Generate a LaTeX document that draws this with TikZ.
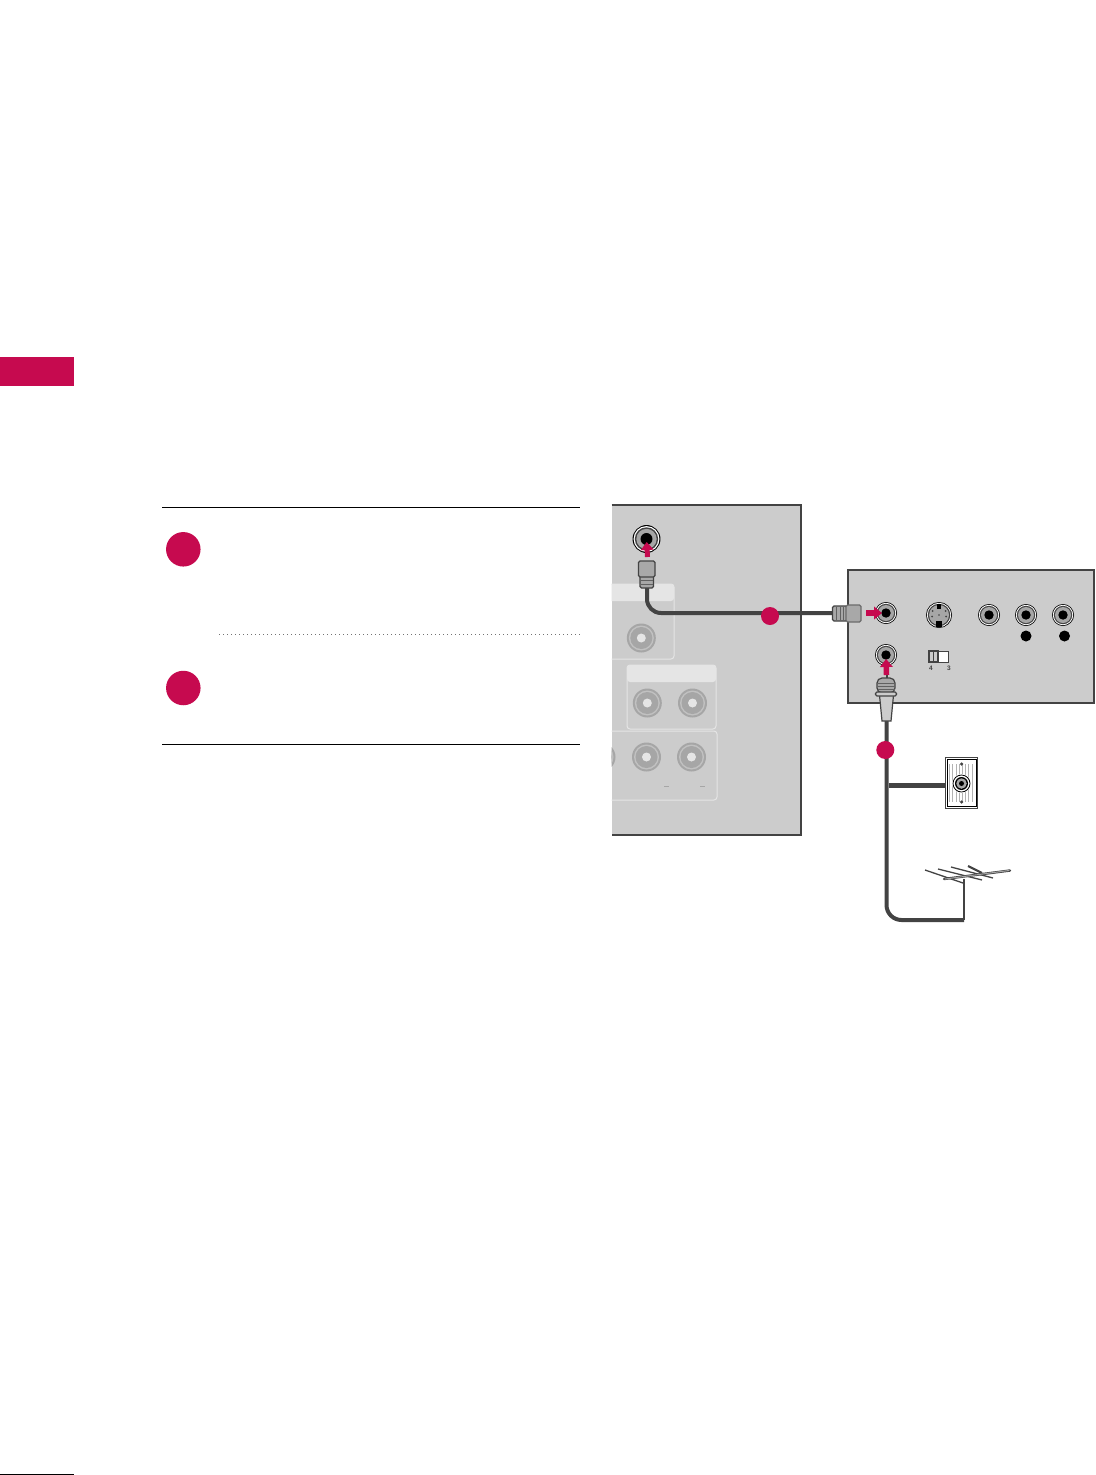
\documentclass[tikz,border=0pt]{standalone}
\usepackage{fontspec}
\setmainfont{Liberation Sans}
\usetikzlibrary{arrows.meta}
\definecolor{crim}{HTML}{C60A4F}
\definecolor{panelgrey}{HTML}{CCCCCC}
\definecolor{headgrey}{HTML}{E5E5E5}
\definecolor{edgegrey}{HTML}{434343}
\definecolor{jackgrey}{HTML}{A6A6A6}
\definecolor{plugfill}{HTML}{A8A8A8}
\tikzset{
  x=1pt,y=-1pt,
  disc/.style={circle,fill=#1,draw=none,inner sep=0pt,outer sep=0pt},
  stepdot/.style={disc=crim,minimum size=34.5pt},
  cabledot/.style={disc=crim,minimum size=18pt},
  rule/.style={draw=black,line width=1pt},
  cable/.style={draw=edgegrey,line width=4pt},
  thickcable/.style={draw=edgegrey,line width=5pt},
  pink/.style={draw=crim,line width=5.5pt,-{Triangle[width=12.5pt,length=8pt]}},
  plugpart/.style={draw=edgegrey,fill=plugfill,line width=1.2pt,rounded corners=1.5pt},
  band/.style={draw=edgegrey!70!plugfill,line width=.7pt},
  subpanel/.style={draw=headgrey,line width=1pt,rounded corners=3pt},
  small/.style={font=\bfseries\fontsize{6.5}{6.5}\selectfont,text=edgegrey,inner sep=0pt},
  element/.style={draw=edgegrey,line width=1.3pt},
}
% live jack: name, x, y, scale
\newcommand{\livejack}[4]{%
  \node[disc=black,minimum size=#4*2.0pt*11] (#1) at (#2,#3) {};
  \node[disc=white,minimum size=#4*2.0pt*10.2] at (#1) {};
  \node[disc=edgegrey,minimum size=#4*2.0pt*9.2] at (#1) {};
  \node[disc=jackgrey,minimum size=#4*2.0pt*8] at (#1) {};
  \node[disc=black,minimum size=#4*2.0pt*4.7] at (#1) {};
}
% idle jack on the back panel
\newcommand{\idlejack}[3]{%
  \node[disc=jackgrey,minimum size=29pt] (#1) at (#2,#3) {};
  \node[disc=panelgrey!70!jackgrey,minimum size=25pt] at (#1) {};
  \node[disc=jackgrey,minimum size=22pt] at (#1) {};
  \node[disc=headgrey,minimum size=9pt] at (#1) {};
}
\begin{document}
\begin{tikzpicture}
\useasboundingbox (0,0) rectangle (1095,1475);
\fill[white] (0,0) rectangle (1095,1475);

% page furniture
\fill[crim] (0,357) rectangle (74,386);
\draw[draw=black,line width=1pt] (0,1474) -- (74,1474);

% instruction block
\coordinate (ruleAa) at (162,507); \coordinate (ruleAb) at (580,507);
\coordinate (ruleBa) at (162,744); \coordinate (ruleBb) at (580,744);
\coordinate (dotsa) at (219,634); \coordinate (dotsb) at (580,634);
\draw[rule] (ruleAa) -- (ruleAb);
\draw[rule] (ruleBa) -- (ruleBb);
\draw[draw=black!55,line width=.7pt,dash pattern=on .8pt off 3.2pt] (dotsa) -- (dotsb);
\node[stepdot] (stepone) at (183.3,549.3) {};
\node[stepdot] (steptwo) at (183.3,688) {};

% left panel
\fill[panelgrey] (611.5,505) rectangle (801,835);
\draw[draw=edgegrey,line width=1.6pt] (611.5,505) -- (801,505) -- (801,835) -- (611.5,835);

\begin{scope}
\clip (611.5,500) rectangle (801,840);
\draw[subpanel] (600,584) rectangle (674,659);
\fill[headgrey,rounded corners=3pt] (600,584) rectangle (674,601);
\draw[subpanel] (600,731) rectangle (717,800);
\idlejack{jackL}{601}{757}
\end{scope}
\fill[headgrey,rounded corners=3pt] (627,665) rectangle (716,682);
\draw[subpanel] (627,665) rectangle (716,729);
\idlejack{jackA}{641.3}{638}
\idlejack{jackB}{647.3}{703}
\idlejack{jackC}{692.5}{703}
\idlejack{jackD}{646.5}{757}
\idlejack{jackE}{691.5}{757}
\coordinate (dashAa) at (664,786); \coordinate (dashAb) at (669,786);
\coordinate (dashBa) at (700,786); \coordinate (dashBb) at (705,786);
\draw[draw=jackgrey,line width=.8pt] (dashAa) -- (dashAb);
\draw[draw=jackgrey,line width=.8pt] (dashBa) -- (dashBb);

% right panel
\draw[draw=edgegrey,fill=panelgrey,line width=1.6pt] (848,570) rectangle (1094,703);

% live jacks
\livejack{antenna}{646.5}{539}{1.27}
\livejack{inA}{886}{613}{1}
\livejack{inB}{886}{655}{1}
\livejack{outA}{989}{615}{1}
\livejack{outB}{1026}{615}{1}
\livejack{outC}{1063}{615}{1}
\node[disc=black,minimum size=11pt] (holeA) at (1026,636) {};
\node[disc=black,minimum size=11pt] (holeB) at (1064.5,636) {};

% S-video jack
\node[disc=black,minimum size=26pt] (svideo) at (939,615) {};
\node[disc=white,minimum size=24.4pt] at (svideo) {};
\node[disc=edgegrey,minimum size=22.5pt] at (svideo) {};
\node[disc=jackgrey,minimum size=20pt] at (svideo) {};
\fill[black] (937,604) rectangle (941,609);
\fill[black] (936,621) rectangle (942,627);
\fill[edgegrey] (932.5,611) circle (1pt) (945.5,611) circle (1pt) (932,616.5) circle (1pt) (946,616.5) circle (1pt) (939,615) circle (.8pt);

% switch
\draw[draw=edgegrey,fill=white,line width=.6pt] (938,651) rectangle (948,662);
\draw[draw=edgegrey,fill=panelgrey,line width=1.8pt] (929,651) rectangle (938,662);
\draw[draw=edgegrey,line width=.7pt] (933.5,652) -- (933.5,661);
\node[small] (labfour) at (931,668.5) {4};
\node[small] (labthree) at (949,668.5) {3};

% cables
\coordinate (plugTopEnd) at (647,588);
\coordinate (plugSideEnd) at (832,613);
\draw[cable,rounded corners=14pt] (plugTopEnd) -- (647,613) -- (plugSideEnd);
\coordinate (plugLowEnd) at (886.5,720);
\coordinate (mastFoot) at (964,920);
\draw[cable,rounded corners=15pt] (plugLowEnd) -- (886.5,920) -- (mastFoot);
\coordinate (branch) at (889,785);
\coordinate (plateW) at (945,785);
\draw[thickcable] (branch) -- (plateW);

% plug on the top jack
\draw[plugpart] (640,575) rectangle (653.5,588);
\draw[plugpart] (638.5,561) rectangle (655,577);
\draw[band] (640.5,580) -- (653,580) (640.5,584) -- (653,584);
% plug on the side jack
\draw[plugpart] (832.5,606) rectangle (847,621);
\draw[plugpart,draw=edgegrey!60!plugfill] (846,605) rectangle (861,622);
\draw[band] (836.5,607) -- (836.5,620) (840,607) -- (840,620) (843.5,607) -- (843.5,620);
% threaded plug
\coordinate (stubTop) at (886.5,674);
\coordinate (stubEnd) at (886.5,681);
\draw[draw=edgegrey,line width=2pt] (stubTop) -- (stubEnd);
\draw[draw=edgegrey,fill=panelgrey,line width=1.2pt] (879.5,695) -- (882,721) -- (891,721) -- (893.5,695) -- cycle;
\draw[plugpart,rounded corners=5pt,fill=plugfill] (877,678) rectangle (895,693);
\draw[band] (877.5,683) -- (894.5,683) (877.5,686) -- (894.5,686) (877.5,689) -- (894.5,689);
\draw[draw=edgegrey,fill=panelgrey,line width=1.1pt,rounded corners=1.5pt] (875.5,692) rectangle (896.5,696);

% pink arrows
\coordinate (arrA) at (647.5,557);
\coordinate (arrB) at (866,613);
\coordinate (arrC) at (886.5,675);
\draw[pink,line width=5pt,shorten >=3pt] (arrA) -- (antenna.center);
\draw[pink,shorten >=4pt] (arrB) -- (inA.center);
\draw[pink,shorten >=4pt] (arrC) -- (inB.center);

% cable markers
\node[cabledot] (dotA) at (770,616) {};
\node[cabledot] (dotB) at (885.3,750) {};

% wall plate
\draw[draw=edgegrey,fill=white,line width=.9pt] (945.5,757.5) rectangle (977.5,808);
\draw[draw=black,line width=1pt] (947.5,759) rectangle (976,806);
\foreach \gx in {949.5,952.7,955.9,959.1,962.3,965.5,968.7,971.9}{\draw[draw=black!30,line width=.5pt] (\gx,764) -- (\gx,802);}
\node[disc=edgegrey,minimum size=3.5pt] (screwA) at (961.5,764) {};
\node[disc=edgegrey,minimum size=3.5pt] (screwB) at (961.5,802) {};
\node[disc=white,minimum size=19pt] (plate) at (961.5,783.5) {};
\node[draw=black,line width=.8pt,circle,minimum size=17pt,inner sep=0pt] at (plate) {};
\node[disc=black,minimum size=13pt] at (plate) {};
\node[disc=jackgrey,minimum size=10.5pt] at (plate) {};
\node[disc=black,minimum size=5pt] at (plate) {};

% antenna
\coordinate (mastTop) at (964,879);
\draw[draw=edgegrey,line width=1.8pt] (mastFoot) -- (mastTop);
\draw[element] (925,870) -- (963,883);
\draw[element] (938,869) -- (982,880);
\draw[element] (951,867) -- (993,878);
\draw[draw=edgegrey,line width=2.2pt] (968,866) -- (982,873);
\draw[draw=edgegrey,line width=2.4pt,line cap=round] (944,879) -- (1010,870.5);
\draw[draw=white!65!black,line width=1pt,line cap=round] (945,879) -- (1009,870.5);
\end{tikzpicture}
\end{document}
